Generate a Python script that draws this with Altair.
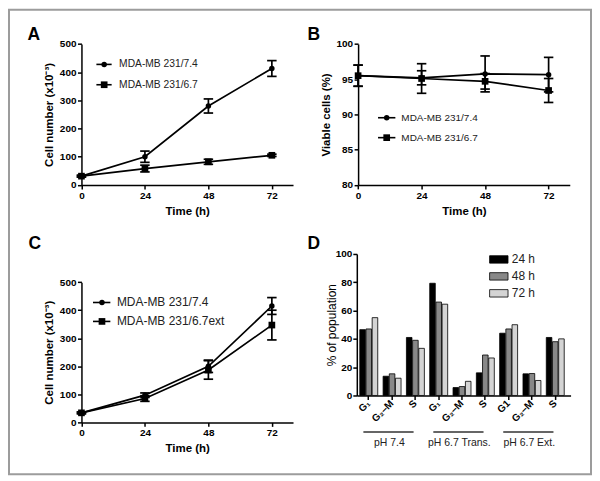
import altair as alt
import pandas as pd

# ---------------- data ----------------
time_h = [0, 24, 48, 72]

a_label_74 = "MDA-MB 231/7.4"
a_label_67 = "MDA-MB 231/6.7"
a_mean_74 = [31, 100, 280, 413]
a_err_74 = [3, 20, 25, 28]
a_mean_67 = [31, 58, 82, 105]
a_err_67 = [3, 12, 9, 4]

b_mean_74 = [95.5, 95.2, 95.75, 95.65]
b_err_74 = [1.5, 1.0, 2.55, 2.45]
b_mean_67 = [95.5, 95.1, 94.7, 93.4]
b_err_67 = [1.5, 2.1, 1.1, 1.7]

c_label_74 = "MDA-MB 231/7.4"
c_label_67 = "MDA-MB 231/6.7ext"
c_mean_74 = [34, 97, 200, 415]
c_err_74 = [3, 8, 22, 30]
c_mean_67 = [34, 85, 187, 347]
c_err_67 = [3, 10, 33, 53]

d_groups = ["pH 7.4", "pH 6.7 Trans.", "pH 6.7 Ext."]
d_phase_labels = ["G₁", "G₂–M", "S", "G₁", "G₂–M", "S", "G1", "G₂–M", "S"]
d_times = ["24 h", "48 h", "72 h"]
d_24 = [46.5, 13.6, 41.0, 79.3, 5.6, 16.0, 44.0, 15.3, 41.0]
d_48 = [47.0, 15.3, 39.0, 66.0, 6.3, 28.6, 47.0, 15.5, 38.0]
d_72 = [55.0, 12.2, 33.3, 64.5, 10.0, 26.5, 50.0, 10.6, 40.0]
d_colors = ["#000000", "#888888", "#d4d4d4"]

FONT = "Liberation Sans"
W, H = 584, 466


def err_panel(series, xr, yr, ydom, yvals, ytitle, x_off, y_off):
    xs = alt.Scale(domain=[0, 80], range=xr, nice=False, zero=False)
    ys = alt.Scale(domain=ydom, range=yr, nice=False, zero=False)
    xax = alt.Axis(orient="bottom", offset=x_off, values=time_h, title="Time (h)",
                   titlePadding=5)
    yax = alt.Axis(orient="left", offset=y_off, values=yvals, title=ytitle,
                   titlePadding=5)
    X = alt.X("t:Q", scale=xs, axis=xax)
    layers = []
    for mean, err, shape, size in series:
        df = pd.DataFrame({"t": time_h, "m": mean, "e": err})
        base = alt.Chart(df).transform_calculate(lo="datum.m - datum.e",
                                                 hi="datum.m + datum.e")
        layers.append(base.mark_line(color="black", strokeWidth=1.7).encode(
            x=X, y=alt.Y("m:Q", scale=ys, axis=yax)))
        layers.append(base.mark_rule(color="black", strokeWidth=1.7).encode(
            x=X, y=alt.Y("lo:Q", scale=ys, axis=yax), y2="hi:Q"))
        for f in ["lo", "hi"]:
            layers.append(base.mark_tick(orient="horizontal", size=9.5, thickness=1.7,
                                         color="black", opacity=1).encode(
                x=X, y=alt.Y(f"{f}:Q", scale=ys, axis=yax)))
        layers.append(base.mark_point(shape=shape, filled=True, size=size,
                                      color="black", opacity=1).encode(
            x=X, y=alt.Y("m:Q", scale=ys, axis=yax)))
    return alt.layer(*layers)


def legend_layer(labels, x0, x1, xm, xt, rows, fs):
    df = pd.DataFrame({"label": labels, "row": list(range(len(labels)))})
    Y = alt.Y("row:Q", scale=alt.Scale(domain=[0, len(labels) - 1], range=rows),
              axis=None)
    base = alt.Chart(df)
    line = base.mark_rule(color="black", strokeWidth=1.6).encode(
        x=alt.value(x0), x2=alt.value(x1), y=Y)
    c = base.transform_filter("datum.row == 0").mark_point(
        shape="circle", filled=True, size=30, color="black", opacity=1).encode(
        x=alt.value(xm), y=Y)
    s = base.transform_filter("datum.row == 1").mark_point(
        shape="square", filled=True, size=45, color="black", opacity=1).encode(
        x=alt.value(xm), y=Y)
    t = base.mark_text(align="left", baseline="middle", fontSize=fs, font=FONT,
                       color="#222222").encode(x=alt.value(xt), y=Y, text="label:N")
    return alt.layer(line, c, s, t)


# ---------------- panels ----------------
panelA = err_panel([(a_mean_74, a_err_74, "circle", 30), (a_mean_67, a_err_67, "square", 45)],
                   [72.7, 285], [175.7, 34.3], [0, 500], [0, 100, 200, 300, 400, 500],
                   "Cell number (x10⁻³)", -(H - 175.7), -72.7)
panelB = err_panel([(b_mean_74, b_err_74, "circle", 30), (b_mean_67, b_err_67, "square", 45)],
                   [350.3, 562.7], [175.7, 34.3], [80, 100], [80, 85, 90, 95, 100],
                   "Viable cells (%)", -(H - 175.7), -350.3)
panelC = err_panel([(c_mean_74, c_err_74, "circle", 30), (c_mean_67, c_err_67, "square", 45)],
                   [72.7, 285], [414, 273.3], [0, 500], [0, 100, 200, 300, 400, 500],
                   "Cell number (x10⁻³)", -(H - 414), -72.7)

# panel D bars
keys = [f"{lab}|{i}" for i, lab in enumerate(d_phase_labels)]
rows = []
for i, k in enumerate(keys):
    for tname, vals in zip(d_times, [d_24, d_48, d_72]):
        rows.append({"key": k, "group": d_groups[i // 3], "time": tname, "v": vals[i]})
d_df = pd.DataFrame(rows)

xD = alt.Scale(domain=keys, range=[349, 563.5], paddingInner=0.23, paddingOuter=0.2, align=0.32)
yD = alt.Scale(domain=[0, 100], range=[387, 245], nice=False, zero=True)
xDax = alt.Axis(orient="bottom", offset=-(H - 387), title=None, labelAngle=315,
                labelAlign="right", labelBaseline="middle", labelPadding=2,
                labelExpr="split(datum.label, '|')[0]")
yDax = alt.Axis(orient="left", offset=-349, values=[0, 20, 40, 60, 80, 100],
                title="% of population", titleFontWeight="normal", titleFontSize=12,
                titlePadding=-3, labelPadding=1)

bars = alt.Chart(d_df).mark_bar(stroke="black", strokeWidth=0.8).encode(
    x=alt.X("key:N", scale=xD, axis=xDax, sort=keys),
    xOffset=alt.XOffset("time:N", scale=alt.Scale(domain=d_times, paddingInner=0.1,
                                                  paddingOuter=0)),
    y=alt.Y("v:Q", scale=yD, axis=yDax),
    fill=alt.Fill("time:N", scale=alt.Scale(domain=d_times, range=d_colors),
                  legend=alt.Legend(title=None, orient="none", legendX=485, legendY=244,
                                    symbolType="M-1.54,-0.62H1.54V0.62H-1.54Z",
                                    symbolSize=144, symbolStrokeColor="black",
                                    symbolStrokeWidth=0.8, labelFontSize=12,
                                    labelFont=FONT, labelColor="#222222",
                                    labelOffset=6.5, rowPadding=4)),
)

grp_df = pd.DataFrame({"group": d_groups, "start": keys[0::3], "mid": keys[1::3],
                       "end": keys[2::3]})
underline = alt.Chart(grp_df).mark_rule(color="#666666", strokeWidth=2).encode(
    x=alt.X("start:N", scale=xD, axis=xDax, bandPosition=0.2),
    x2=alt.X2("end:N", bandPosition=0.4),
    y=alt.value(423.7),
)
grp_text = alt.Chart(grp_df).mark_text(fontSize=10.5, font=FONT, color="#222222",
                                       baseline="middle", align="center").encode(
    x=alt.X("mid:N", scale=xD, axis=xDax, bandPosition=0.35),
    y=alt.value(435),
    text="group:N",
)
panelD = alt.layer(bars, underline, grp_text)

legA = legend_layer([a_label_74, a_label_67], 87.7, 103, 95.5, 110.5, [54.8, 75.2], 10.3)
legB = legend_layer([a_label_74, a_label_67], 370.3, 387.7, 379, 393.7, [108.3, 128.3], 10)
legC = legend_layer([c_label_74, c_label_67], 84.3, 101.7, 93.3, 108.3, [293.7, 312.7], 12)


def letter(txt, x, y):
    return alt.Chart(pd.DataFrame({"l": [txt]})).mark_text(
        fontSize=17.5, fontWeight="bold", font=FONT, color="black", align="left",
        baseline="alphabetic").encode(x=alt.value(x), y=alt.value(y), text="l:N")


letters = alt.layer(letter("A", 18.5, 30.3), letter("B", 299.5, 30.3),
                    letter("C", 19.5, 240), letter("D", 299.5, 240))

chart = alt.layer(panelD, panelA, panelB, panelC, legA, legB, legC, letters).resolve_scale(
    x="independent", y="independent", shape="independent", fill="independent"
).resolve_axis(x="independent", y="independent").properties(
    width=W, height=H, padding=1, autosize=alt.AutoSizeParams(type="none"),
    background="white"
).configure_view(
    stroke="#9c9c9c", strokeWidth=2
).configure_axis(
    domainColor="black", domainWidth=1.5, tickColor="black", tickWidth=1.5, tickSize=4,
    labelFont=FONT, labelFontSize=10, labelFontWeight="bold", labelColor="black",
    labelPadding=1.5, titleFont=FONT, titleFontSize=11.5, titleFontWeight="bold",
    titleColor="black", grid=False, minExtent=0, labelFlush=False, labelOverlap=False
)

chart.save("out.html", embed_options={"renderer": "svg", "actions": False})
